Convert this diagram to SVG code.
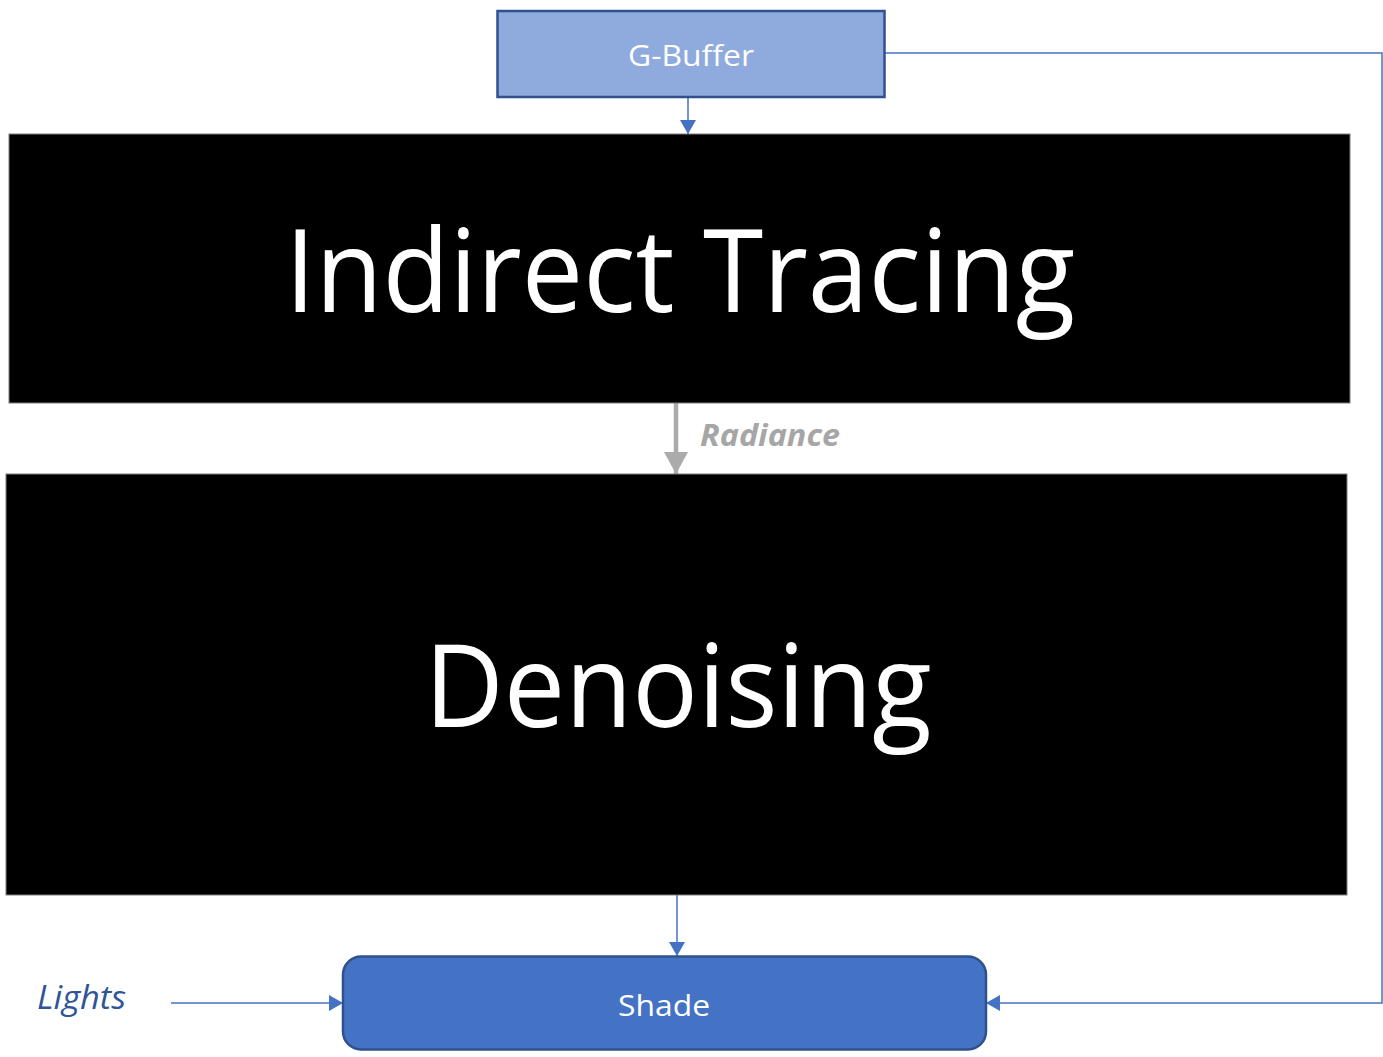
<svg xmlns="http://www.w3.org/2000/svg" width="1383" height="1057" viewBox="0 0 1383 1057">
<style>
.lbl{font-family:"Open Sans","Noto Sans","DejaVu Sans",sans-serif;}
.blue{stroke:#4472C4;stroke-width:1.5;fill:none;}
</style>
<defs>
<marker id="ah" markerWidth="14" markerHeight="16" refX="14" refY="8" orient="auto" markerUnits="userSpaceOnUse">
<path d="M0,0 L14,8 L0,16 z" fill="#4472C4"/>
</marker>
<marker id="ahg" markerWidth="24" markerHeight="24" refX="22" refY="12" orient="auto" markerUnits="userSpaceOnUse">
<path d="M0,0 L22,12 L0,24 z" fill="#ABABAB"/>
</marker>
</defs>
<rect width="1383" height="1057" fill="#FFFFFF"/>
<g id="connectors">
<line class="blue" x1="688" y1="97" x2="688" y2="134" marker-end="url(#ah)"/>
<line x1="676" y1="403" x2="676" y2="474" stroke="#ABABAB" stroke-width="4.5" marker-end="url(#ahg)"/>
<line class="blue" x1="677" y1="895" x2="677" y2="956" marker-end="url(#ah)"/>
<line class="blue" x1="171" y1="1003" x2="343" y2="1003" marker-end="url(#ah)"/>
<polyline class="blue" points="885,53 1382,53 1382,1003 986,1003" marker-end="url(#ah)"/>
<text class="lbl" x="700" y="446" font-size="31" font-style="italic" font-weight="bold" fill="#A6A6A6" textLength="140" lengthAdjust="spacingAndGlyphs">Radiance</text>
<text class="lbl" x="37" y="1009" font-size="32" font-style="italic" fill="#2F5597" textLength="89" lengthAdjust="spacingAndGlyphs">Lights</text>
</g>
<g id="gbuffer">
<rect x="497.5" y="11" width="387" height="86" fill="#8FAADC" stroke="#2F528F" stroke-width="2.5"/>
<text class="lbl" x="691" y="66" font-size="30" fill="#FFFFFF" text-anchor="middle" textLength="126" lengthAdjust="spacingAndGlyphs">G-Buffer</text>
</g>
<g id="indirect">
<rect x="9" y="134" width="1341" height="269" fill="#000000" stroke="#7F7F7F" stroke-width="1"/>
<text class="lbl" x="680" y="312" font-size="115" fill="#FFFFFF" text-anchor="middle" textLength="790" lengthAdjust="spacingAndGlyphs">Indirect Tracing</text>
</g>
<g id="denoising">
<rect x="6" y="474" width="1341" height="421" fill="#000000" stroke="#7F7F7F" stroke-width="1"/>
<text class="lbl" x="678" y="727" font-size="115" fill="#FFFFFF" text-anchor="middle" textLength="507" lengthAdjust="spacingAndGlyphs">Denoising</text>
</g>
<g id="shade">
<rect x="343" y="956.5" width="643" height="93" rx="18" fill="#4472C4" stroke="#2F528F" stroke-width="2.5"/>
<text class="lbl" x="664" y="1016" font-size="30" fill="#FFFFFF" text-anchor="middle" textLength="92" lengthAdjust="spacingAndGlyphs">Shade</text>
</g>
</svg>
